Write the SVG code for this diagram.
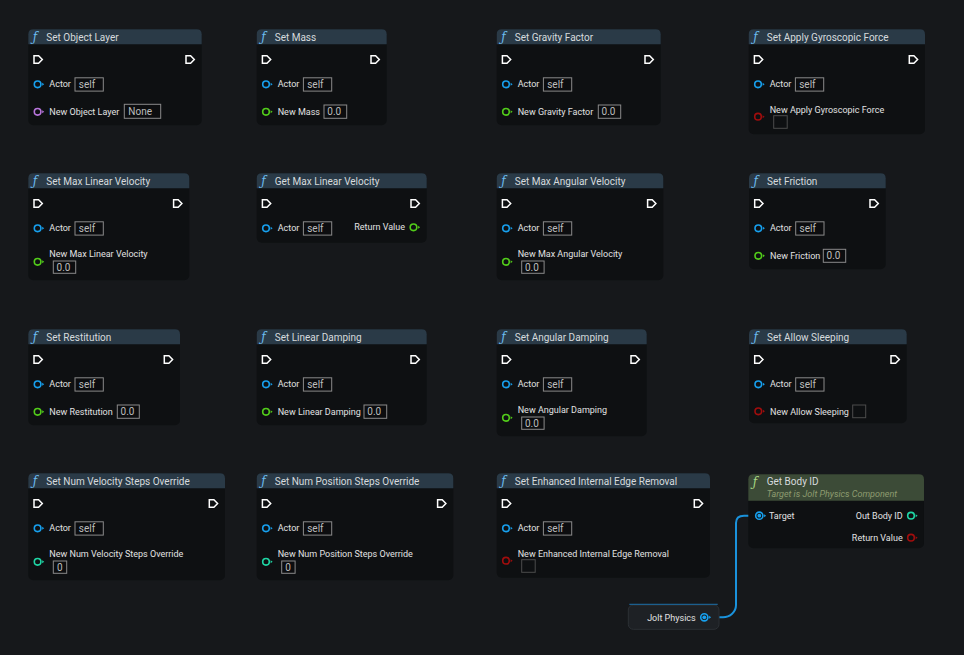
<svg xmlns="http://www.w3.org/2000/svg" xmlns:xlink="http://www.w3.org/1999/xlink" width="964" height="655" viewBox="0 0 964 655">
<style>
.bg{fill:#16181b}
.body{fill:#0e1012}
.hdr{fill:#2a3a47}
.hdrg{fill:#3c4b37}
.title{font-family:Roboto,"Liberation Sans",sans-serif;font-size:10px;fill:#d6dadd}
.fn{font-family:"DejaVu Serif","Liberation Serif",serif;font-style:italic;font-size:12px;fill:#6cbcf0}
.fng{font-family:"DejaVu Serif","Liberation Serif",serif;font-style:italic;font-size:12px;fill:#a8d884}
.sub{font-family:Roboto,"Liberation Sans",sans-serif;font-size:9px;font-style:italic;fill:#8e9c70}
.lbl{font-family:Roboto,"Liberation Sans",sans-serif;font-size:9px;fill:#e2e2e2}
.val{font-family:Roboto,"Liberation Sans",sans-serif;font-size:10px;fill:#bdbdbd}
.box{fill:#0c0d0f;stroke:#8a8a8a;stroke-width:1}
.chk{fill:#0e1012;stroke:#4c4c4c;stroke-width:1}
.p-obj{color:#17a0ee}
.p-flt{color:#52cc1a}
.p-bool{color:#a00d0d}
.p-int{color:#1fd6a5}
.p-lay{color:#b875dc}
.wire{fill:none;stroke:#1a92dc;stroke-width:2}
</style>
<defs>
<path id="exec" d="M0,0 H4.6 L8.3,3.8 L4.6,7.6 H0 Z" fill="none" stroke="#ffffff" stroke-width="1.5" stroke-linejoin="miter"/>
<g id="pin"><circle cx="0" cy="0" r="3.3" fill="none" stroke="currentColor" stroke-width="1.6"/><path d="M4.6,-1.5 L6.6,0 L4.6,1.5Z" fill="currentColor"/></g>
<g id="pinc"><circle cx="0" cy="0" r="3.6" fill="none" stroke="currentColor" stroke-width="1.6"/><circle cx="0" cy="0" r="1.9" fill="currentColor"/><path d="M4.8,-1.5 L6.8,0 L4.8,1.5Z" fill="currentColor"/></g>
</defs>
<rect class="bg" x="0" y="0" width="964" height="655"/>

<g id="connectors">
<path class="wire" d="M706,617.3 H723 C730,617.3 736,612 736,605 V523 C736,518.5 739,515.7 744,515.7 H756"/>
</g>

<g id="set-object-layer" transform="translate(28.3,29.3)">
<rect class="body" x="0" y="0" width="173.4" height="96" rx="5"/>
<path class="hdr" d="M0,15 V5 Q0,0 5,0 H168.4 Q173.4,0 173.4,5 V15 Z"/>
<text class="fn" x="4.5" y="12">ƒ</text>
<text class="title" x="18" y="11.4">Set Object Layer</text>
<use href="#exec" x="5.7" y="26.4"/>
<use href="#exec" x="157.7" y="26.4"/>
<use href="#pin" class="p-obj" x="9.3" y="55"/>
<text class="lbl" x="21" y="58.2">Actor</text>
<rect class="box" x="46.7" y="48.5" width="28.3" height="13.3"/>
<text class="val" x="50.5" y="58.8">self</text>
<use href="#pin" class="p-lay" x="9.3" y="82.5"/>
<text class="lbl" x="21" y="85.7">New Object Layer</text>
<rect class="box" x="96" y="75" width="36.4" height="14"/>
<text class="val" x="100" y="85.8">None</text>
</g>

<g id="set-mass" transform="translate(256.7,29.3)">
<rect class="body" x="0" y="0" width="130" height="96" rx="5"/>
<path class="hdr" d="M0,15 V5 Q0,0 5,0 H125 Q130,0 130,5 V15 Z"/>
<text class="fn" x="4.5" y="12">ƒ</text>
<text class="title" x="18" y="11.4">Set Mass</text>
<use href="#exec" x="5.7" y="26.4"/>
<use href="#exec" x="114.3" y="26.4"/>
<use href="#pin" class="p-obj" x="9.3" y="55"/>
<text class="lbl" x="21" y="58.2">Actor</text>
<rect class="box" x="46.7" y="48.5" width="28.3" height="13.3"/>
<text class="val" x="50.5" y="58.8">self</text>
<use href="#pin" class="p-flt" x="9.3" y="82.5"/>
<text class="lbl" x="21" y="85.7">New Mass</text>
<rect class="box" x="67.3" y="75.7" width="22.7" height="13.3"/>
<text class="val" x="70.6" y="86">0.0</text>
</g>

<g id="set-gravity-factor" transform="translate(496.7,29.3)">
<rect class="body" x="0" y="0" width="164" height="96" rx="5"/>
<path class="hdr" d="M0,15 V5 Q0,0 5,0 H159 Q164,0 164,5 V15 Z"/>
<text class="fn" x="4.5" y="12">ƒ</text>
<text class="title" x="18" y="11.4">Set Gravity Factor</text>
<use href="#exec" x="5.7" y="26.4"/>
<use href="#exec" x="148.3" y="26.4"/>
<use href="#pin" class="p-obj" x="9.3" y="55"/>
<text class="lbl" x="21" y="58.2">Actor</text>
<rect class="box" x="46.7" y="48.5" width="28.3" height="13.3"/>
<text class="val" x="50.5" y="58.8">self</text>
<use href="#pin" class="p-flt" x="9.3" y="82.5"/>
<text class="lbl" x="21" y="85.7">New Gravity Factor</text>
<rect class="box" x="101.6" y="75.7" width="22.4" height="13.3"/>
<text class="val" x="104.9" y="86">0.0</text>
</g>

<g id="set-apply-gyroscopic-force" transform="translate(748.7,29.3)">
<rect class="body" x="0" y="0" width="176.3" height="105" rx="5"/>
<path class="hdr" d="M0,15 V5 Q0,0 5,0 H171.3 Q176.3,0 176.3,5 V15 Z"/>
<text class="fn" x="4.5" y="12">ƒ</text>
<text class="title" x="18" y="11.4">Set Apply Gyroscopic Force</text>
<use href="#exec" x="5.7" y="26.4"/>
<use href="#exec" x="160.6" y="26.4"/>
<use href="#pin" class="p-obj" x="9.3" y="55"/>
<text class="lbl" x="21" y="58.2">Actor</text>
<rect class="box" x="46.7" y="48.5" width="28.3" height="13.3"/>
<text class="val" x="50.5" y="58.8">self</text>
<use href="#pin" class="p-bool" x="9.3" y="87.4"/>
<text class="lbl" x="21" y="84">New Apply Gyroscopic Force</text>
<rect class="chk" x="25" y="86.4" width="13.5" height="12.6"/>
</g>

<g id="set-max-linear-velocity" transform="translate(28.3,173.3)">
<rect class="body" x="0" y="0" width="161" height="107" rx="5"/>
<path class="hdr" d="M0,15 V5 Q0,0 5,0 H156 Q161,0 161,5 V15 Z"/>
<text class="fn" x="4.5" y="12">ƒ</text>
<text class="title" x="18" y="11.4">Set Max Linear Velocity</text>
<use href="#exec" x="5.7" y="26.4"/>
<use href="#exec" x="145.3" y="26.4"/>
<use href="#pin" class="p-obj" x="9.3" y="55"/>
<text class="lbl" x="21" y="58.2">Actor</text>
<rect class="box" x="46.7" y="48.5" width="28.3" height="13.3"/>
<text class="val" x="50.5" y="58.8">self</text>
<use href="#pin" class="p-flt" x="9.3" y="88.5"/>
<text class="lbl" x="21" y="84">New Max Linear Velocity</text>
<rect class="box" x="25" y="87.7" width="22.4" height="12.3"/>
<text class="val" x="28.3" y="97.6">0.0</text>
</g>

<g id="get-max-linear-velocity" transform="translate(256.7,173.3)">
<rect class="body" x="0" y="0" width="170" height="69.5" rx="5"/>
<path class="hdr" d="M0,15 V5 Q0,0 5,0 H165 Q170,0 170,5 V15 Z"/>
<text class="fn" x="4.5" y="12">ƒ</text>
<text class="title" x="18" y="11.4">Get Max Linear Velocity</text>
<use href="#exec" x="5.7" y="26.4"/>
<use href="#exec" x="154.3" y="26.4"/>
<use href="#pin" class="p-obj" x="9.3" y="55"/>
<text class="lbl" x="21" y="58.2">Actor</text>
<rect class="box" x="46.7" y="48.5" width="28.3" height="13.3"/>
<text class="val" x="50.5" y="58.8">self</text>
<text class="lbl" x="148.3" y="56.7" text-anchor="end">Return Value</text>
<use href="#pin" class="p-flt" x="156.8" y="54"/>
</g>

<g id="set-max-angular-velocity" transform="translate(496.7,173.3)">
<rect class="body" x="0" y="0" width="166.6" height="107" rx="5"/>
<path class="hdr" d="M0,15 V5 Q0,0 5,0 H161.6 Q166.6,0 166.6,5 V15 Z"/>
<text class="fn" x="4.5" y="12">ƒ</text>
<text class="title" x="18" y="11.4">Set Max Angular Velocity</text>
<use href="#exec" x="5.7" y="26.4"/>
<use href="#exec" x="150.9" y="26.4"/>
<use href="#pin" class="p-obj" x="9.3" y="55"/>
<text class="lbl" x="21" y="58.2">Actor</text>
<rect class="box" x="46.7" y="48.5" width="28.3" height="13.3"/>
<text class="val" x="50.5" y="58.8">self</text>
<use href="#pin" class="p-flt" x="9.3" y="88.5"/>
<text class="lbl" x="21" y="84">New Max Angular Velocity</text>
<rect class="box" x="25" y="87.7" width="22.4" height="12.3"/>
<text class="val" x="28.3" y="97.6">0.0</text>
</g>

<g id="set-friction" transform="translate(749,173.3)">
<rect class="body" x="0" y="0" width="136.7" height="96" rx="5"/>
<path class="hdr" d="M0,15 V5 Q0,0 5,0 H131.7 Q136.7,0 136.7,5 V15 Z"/>
<text class="fn" x="4.5" y="12">ƒ</text>
<text class="title" x="18" y="11.4">Set Friction</text>
<use href="#exec" x="5.7" y="26.4"/>
<use href="#exec" x="121" y="26.4"/>
<use href="#pin" class="p-obj" x="9.3" y="55"/>
<text class="lbl" x="21" y="58.2">Actor</text>
<rect class="box" x="46.7" y="48.5" width="28.3" height="13.3"/>
<text class="val" x="50.5" y="58.8">self</text>
<use href="#pin" class="p-flt" x="9.3" y="82.5"/>
<text class="lbl" x="21" y="85.7">New Friction</text>
<rect class="box" x="74.3" y="76" width="22.4" height="13"/>
<text class="val" x="77.6" y="86.2">0.0</text>
</g>

<g id="set-restitution" transform="translate(28.3,329.3)">
<rect class="body" x="0" y="0" width="151.7" height="96" rx="5"/>
<path class="hdr" d="M0,15 V5 Q0,0 5,0 H146.7 Q151.7,0 151.7,5 V15 Z"/>
<text class="fn" x="4.5" y="12">ƒ</text>
<text class="title" x="18" y="11.4">Set Restitution</text>
<use href="#exec" x="5.7" y="26.4"/>
<use href="#exec" x="136" y="26.4"/>
<use href="#pin" class="p-obj" x="9.3" y="55"/>
<text class="lbl" x="21" y="58.2">Actor</text>
<rect class="box" x="46.7" y="48.5" width="28.3" height="13.3"/>
<text class="val" x="50.5" y="58.8">self</text>
<use href="#pin" class="p-flt" x="9.3" y="82.5"/>
<text class="lbl" x="21" y="85.7">New Restitution</text>
<rect class="box" x="89" y="75.7" width="22" height="13.3"/>
<text class="val" x="92.3" y="86">0.0</text>
</g>

<g id="set-linear-damping" transform="translate(256.7,329.3)">
<rect class="body" x="0" y="0" width="170" height="96" rx="5"/>
<path class="hdr" d="M0,15 V5 Q0,0 5,0 H165 Q170,0 170,5 V15 Z"/>
<text class="fn" x="4.5" y="12">ƒ</text>
<text class="title" x="18" y="11.4">Set Linear Damping</text>
<use href="#exec" x="5.7" y="26.4"/>
<use href="#exec" x="154.3" y="26.4"/>
<use href="#pin" class="p-obj" x="9.3" y="55"/>
<text class="lbl" x="21" y="58.2">Actor</text>
<rect class="box" x="46.7" y="48.5" width="28.3" height="13.3"/>
<text class="val" x="50.5" y="58.8">self</text>
<use href="#pin" class="p-flt" x="9.3" y="82.5"/>
<text class="lbl" x="21" y="85.7">New Linear Damping</text>
<rect class="box" x="107.3" y="75.7" width="22.7" height="13.3"/>
<text class="val" x="110.6" y="86">0.0</text>
</g>

<g id="set-angular-damping" transform="translate(496.7,329.3)">
<rect class="body" x="0" y="0" width="150" height="107" rx="5"/>
<path class="hdr" d="M0,15 V5 Q0,0 5,0 H145 Q150,0 150,5 V15 Z"/>
<text class="fn" x="4.5" y="12">ƒ</text>
<text class="title" x="18" y="11.4">Set Angular Damping</text>
<use href="#exec" x="5.7" y="26.4"/>
<use href="#exec" x="134.3" y="26.4"/>
<use href="#pin" class="p-obj" x="9.3" y="55"/>
<text class="lbl" x="21" y="58.2">Actor</text>
<rect class="box" x="46.7" y="48.5" width="28.3" height="13.3"/>
<text class="val" x="50.5" y="58.8">self</text>
<use href="#pin" class="p-flt" x="9.3" y="88.5"/>
<text class="lbl" x="21" y="84">New Angular Damping</text>
<rect class="box" x="25" y="87.7" width="22.4" height="12.3"/>
<text class="val" x="28.3" y="97.6">0.0</text>
</g>

<g id="set-allow-sleeping" transform="translate(749,329.3)">
<rect class="body" x="0" y="0" width="157.7" height="94" rx="5"/>
<path class="hdr" d="M0,15 V5 Q0,0 5,0 H152.7 Q157.7,0 157.7,5 V15 Z"/>
<text class="fn" x="4.5" y="12">ƒ</text>
<text class="title" x="18" y="11.4">Set Allow Sleeping</text>
<use href="#exec" x="5.7" y="26.4"/>
<use href="#exec" x="142" y="26.4"/>
<use href="#pin" class="p-obj" x="9.3" y="55"/>
<text class="lbl" x="21" y="58.2">Actor</text>
<rect class="box" x="46.7" y="48.5" width="28.3" height="13.3"/>
<text class="val" x="50.5" y="58.8">self</text>
<use href="#pin" class="p-bool" x="9.3" y="82"/>
<text class="lbl" x="21" y="85.4">New Allow Sleeping</text>
<rect class="chk" x="103.7" y="75.7" width="13" height="12.7"/>
</g>

<g id="set-num-velocity-steps-override" transform="translate(28.3,473.3)">
<rect class="body" x="0" y="0" width="196.7" height="107" rx="5"/>
<path class="hdr" d="M0,15 V5 Q0,0 5,0 H191.7 Q196.7,0 196.7,5 V15 Z"/>
<text class="fn" x="4.5" y="12">ƒ</text>
<text class="title" x="18" y="11.4">Set Num Velocity Steps Override</text>
<use href="#exec" x="5.7" y="26.4"/>
<use href="#exec" x="181" y="26.4"/>
<use href="#pin" class="p-obj" x="9.3" y="55"/>
<text class="lbl" x="21" y="58.2">Actor</text>
<rect class="box" x="46.7" y="48.5" width="28.3" height="13.3"/>
<text class="val" x="50.5" y="58.8">self</text>
<use href="#pin" class="p-int" x="9.3" y="88.5"/>
<text class="lbl" x="21" y="84">New Num Velocity Steps Override</text>
<rect class="box" x="25" y="87.7" width="13.4" height="12.3"/>
<text class="val" x="28.6" y="97.6">0</text>
</g>

<g id="set-num-position-steps-override" transform="translate(256.7,473.3)">
<rect class="body" x="0" y="0" width="196.6" height="107" rx="5"/>
<path class="hdr" d="M0,15 V5 Q0,0 5,0 H191.6 Q196.6,0 196.6,5 V15 Z"/>
<text class="fn" x="4.5" y="12">ƒ</text>
<text class="title" x="18" y="11.4">Set Num Position Steps Override</text>
<use href="#exec" x="5.7" y="26.4"/>
<use href="#exec" x="180.9" y="26.4"/>
<use href="#pin" class="p-obj" x="9.3" y="55"/>
<text class="lbl" x="21" y="58.2">Actor</text>
<rect class="box" x="46.7" y="48.5" width="28.3" height="13.3"/>
<text class="val" x="50.5" y="58.8">self</text>
<use href="#pin" class="p-int" x="9.3" y="88.5"/>
<text class="lbl" x="21" y="84">New Num Position Steps Override</text>
<rect class="box" x="25" y="87.7" width="13.4" height="12.3"/>
<text class="val" x="28.6" y="97.6">0</text>
</g>

<g id="set-enhanced-internal-edge-removal" transform="translate(496.7,473.3)">
<rect class="body" x="0" y="0" width="213.3" height="104.5" rx="5"/>
<path class="hdr" d="M0,15 V5 Q0,0 5,0 H208.3 Q213.3,0 213.3,5 V15 Z"/>
<text class="fn" x="4.5" y="12">ƒ</text>
<text class="title" x="18" y="11.4">Set Enhanced Internal Edge Removal</text>
<use href="#exec" x="5.7" y="26.4"/>
<use href="#exec" x="197.6" y="26.4"/>
<use href="#pin" class="p-obj" x="9.3" y="55"/>
<text class="lbl" x="21" y="58.2">Actor</text>
<rect class="box" x="46.7" y="48.5" width="28.3" height="13.3"/>
<text class="val" x="50.5" y="58.8">self</text>
<use href="#pin" class="p-bool" x="9.3" y="87.4"/>
<text class="lbl" x="21" y="84">New Enhanced Internal Edge Removal</text>
<rect class="chk" x="25" y="86.4" width="13.5" height="12.6"/>
</g>

<g id="get-body-id" transform="translate(748.3,474.3)">
<rect class="body" x="0" y="0" width="175.7" height="74" rx="5"/>
<path class="hdrg" d="M0,26.4 V5 Q0,0 5,0 H170.7 Q175.7,0 175.7,5 V26.4 Z"/>
<text class="fng" x="4.5" y="11.5">ƒ</text>
<text class="title" x="18.4" y="10.4">Get Body ID</text>
<text class="sub" x="18.4" y="22.4">Target is Jolt Physics Component</text>
<use href="#pinc" class="p-obj" x="11" y="41.4"/>
<text class="lbl" x="20.7" y="44.6">Target</text>
<text class="lbl" x="154.4" y="44.6" text-anchor="end">Out Body ID</text>
<use href="#pin" class="p-int" x="162.7" y="41.4"/>
<text class="lbl" x="154.4" y="66.6" text-anchor="end">Return Value</text>
<use href="#pin" class="p-bool" x="162.7" y="63.4"/>
</g>

<g id="jolt-physics" transform="translate(628.3,605)">
<rect x="0" y="0" width="90.7" height="24.3" rx="5" fill="#1e2125" stroke="#2c3035" stroke-width="1"/>
<line x1="1" y1="-0.6" x2="89.4" y2="-0.6" stroke="#1c5f8e" stroke-width="1.2"/>
<text class="lbl" x="67.4" y="15.7" text-anchor="end">Jolt Physics</text>
<use href="#pinc" class="p-obj" x="76" y="12.3"/>
</g>
</svg>
